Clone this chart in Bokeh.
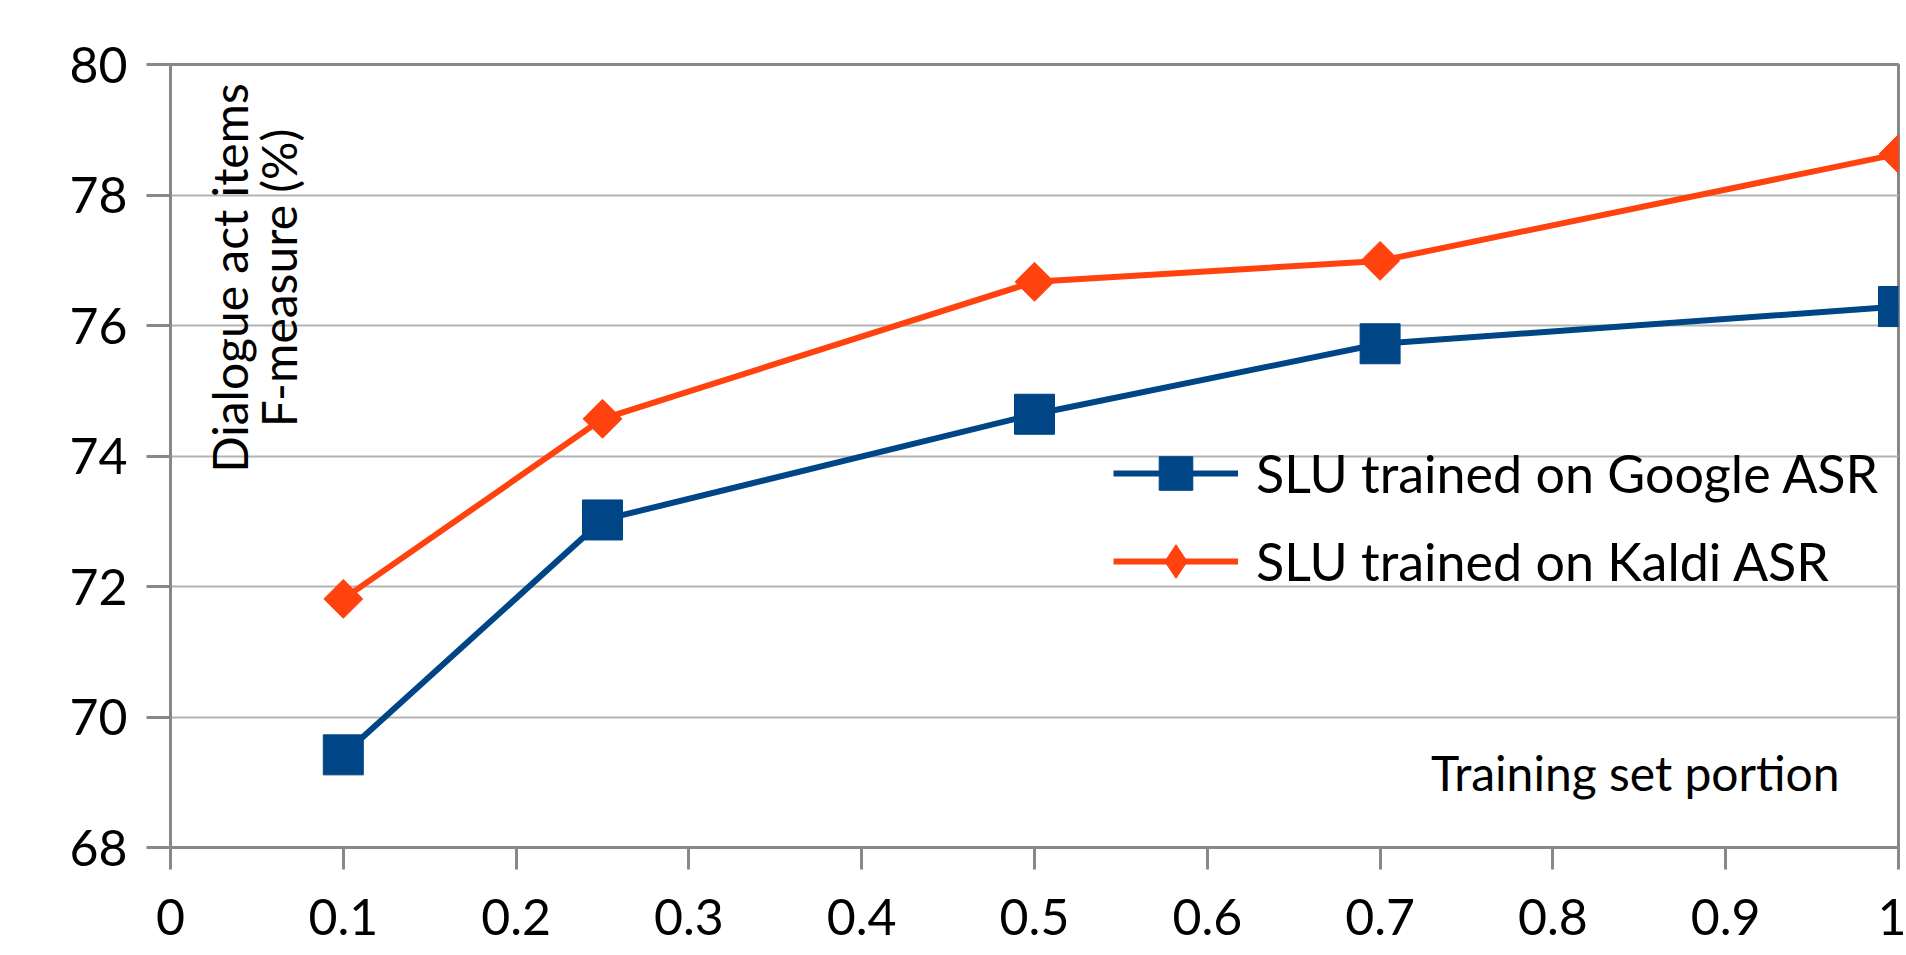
import math
from bokeh.plotting import figure
from bokeh.models import (Range1d, FixedTicker, Label, Legend, LegendItem,
                          ColumnDataSource)
from bokeh.embed import file_html
from bokeh.resources import INLINE

# ---- data ----
portion = [0.1, 0.25, 0.5, 0.7, 1.0]
google_asr = [69.42, 73.02, 74.64, 75.72, 76.29]
kaldi_asr = [71.81, 74.57, 76.67, 76.99, 78.63]
series_names = ["SLU trained on Google ASR", "SLU trained on Kaldi ASR"]
x_ticks = [0, 0.1, 0.2, 0.3, 0.4, 0.5, 0.6, 0.7, 0.8, 0.9, 1]
x_tick_labels = ["0", "0.1", "0.2", "0.3", "0.4", "0.5", "0.6", "0.7", "0.8", "0.9", "1"]
y_ticks = [68, 70, 72, 74, 76, 78, 80]
x_title = "Training set portion"
y_title_lines = ["Dialogue act items", "F-measure (%)"]

BLUE = "#004586"
ORANGE = "#ff420e"
GRAY = "#888888"
FONT = "Lato"

src = ColumnDataSource(dict(x=portion, g=google_asr, k=kaldi_asr))

p = figure(width=1906, height=955, output_backend="svg", toolbar_location=None,
           x_range=Range1d(0, 1), y_range=Range1d(68, 80),
           min_border_left=170, min_border_right=8, min_border_top=64,
           min_border_bottom=108)
p.background_fill_color = "white"
p.border_fill_color = "white"
p.outline_line_color = GRAY
p.outline_line_width = 3

p.xgrid.visible = False
p.ygrid.grid_line_color = "#b3b3b3"
p.ygrid.grid_line_width = 2

for ax in (p.xaxis[0], p.yaxis[0]):
    ax.axis_line_color = GRAY
    ax.axis_line_width = 3
    ax.major_tick_line_color = GRAY
    ax.major_tick_line_width = 3
    ax.major_tick_in = 0
    ax.minor_tick_line_color = None
    ax.major_label_text_font = FONT
    ax.major_label_text_font_size = "50px"
    ax.major_label_text_color = "black"

p.xaxis.ticker = FixedTicker(ticks=x_ticks)
p.xaxis.major_label_overrides = {t: l for t, l in zip(x_ticks, x_tick_labels)}
p.xaxis.major_tick_out = 22
p.xaxis.major_label_standoff = 29
p.yaxis.ticker = FixedTicker(ticks=y_ticks)
p.yaxis.major_tick_out = 24
p.yaxis.major_label_standoff = 19

g_line = p.line("x", "g", source=src, line_color=BLUE, line_width=6)
g_sc = p.scatter("x", "g", source=src, marker="square", size=40,
                 fill_color=BLUE, line_color=BLUE)
k_line = p.line("x", "k", source=src, line_color=ORANGE, line_width=6)
# diamond marker (hidden beneath the plot markers) gives the legend swatch
k_leg = p.scatter("x", "k", source=src, marker="diamond", size=30,
                  fill_color=ORANGE, line_color=ORANGE)
k_sc = p.scatter("x", "k", source=src, marker="square", angle=math.pi / 4,
                 size=27.5, fill_color=ORANGE, line_color=ORANGE)

legend = Legend(items=[LegendItem(label=series_names[0], renderers=[g_line, g_sc]),
                       LegendItem(label=series_names[1], renderers=[k_line, k_leg])],
                location=(943, 244), glyph_width=125, glyph_height=84, spacing=4,
                label_standoff=18, padding=0, margin=0,
                border_line_alpha=0, background_fill_alpha=0,
                label_text_font=FONT, label_text_font_size="52px",
                label_text_color="black")
p.add_layout(legend)

for xpos, line in zip([0.0342, 0.0625], y_title_lines):
    p.add_layout(Label(x=xpos, y=76.728, text=line, angle=math.pi / 2,
                       text_align="center", text_baseline="alphabetic",
                       text_font=FONT, text_font_size="48px", text_color="black"))
p.add_layout(Label(x=0.9659, y=69.15, text=x_title, text_align="right",
                   text_baseline="alphabetic", text_font=FONT,
                   text_font_size="48px", text_color="black"))

open("out.html", "w").write(file_html(p, INLINE))
